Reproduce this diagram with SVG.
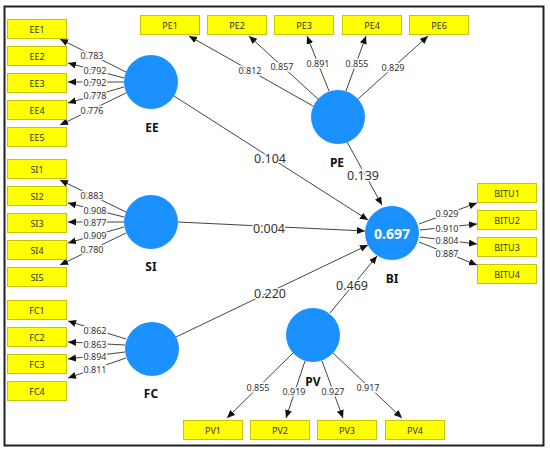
<svg xmlns="http://www.w3.org/2000/svg" width="550" height="452" viewBox="0 0 550 452">
<style>
text{font-family:"Noto Sans","Open Sans",sans-serif;fill:#333;text-anchor:middle;dominant-baseline:central}
.box rect{fill:#ffff00;stroke:#c9c400;stroke-width:1}
.box text{font-size:9px}
.lv circle{fill:#1b91ff}
.lv text{font-size:12px;font-weight:bold;fill:#111}
.lv text.r2{fill:#fff;font-size:14px}
.cn line{stroke:#444;stroke-width:1;marker-end:url(#ah)}
.ld{font-size:9px;stroke:#fff;stroke-width:3;paint-order:stroke}
.pc{font-size:12.5px;stroke:#fff;stroke-width:3;paint-order:stroke}
</style>
<defs>
<marker id="ah" markerWidth="9" markerHeight="8" refX="8" refY="3.5" orient="auto" markerUnits="userSpaceOnUse">
<path d="M0,0 L8,3.5 L0,7 z" fill="#111"/>
</marker>
</defs>
<rect x="0" y="0" width="550" height="452" fill="#fff"/>
<rect x="4.5" y="6.5" width="539" height="439" fill="none" stroke="#222" stroke-width="2"/>

<g class="cn" id="connectors">
<line x1="126" y1="72" x2="60" y2="39"/>
<line x1="124" y1="78" x2="68" y2="63"/>
<line x1="124" y1="82" x2="68" y2="82"/>
<line x1="124" y1="87" x2="68" y2="103"/>
<line x1="126" y1="93" x2="60" y2="125"/>
<line x1="126" y1="212" x2="60" y2="180"/>
<line x1="124" y1="217" x2="68" y2="203"/>
<line x1="124" y1="222" x2="68" y2="222"/>
<line x1="124" y1="227" x2="68" y2="243"/>
<line x1="126" y1="233" x2="60" y2="265"/>
<line x1="126" y1="339" x2="68" y2="321"/>
<line x1="125" y1="345" x2="68" y2="342"/>
<line x1="125" y1="352" x2="68" y2="359"/>
<line x1="126" y1="358" x2="68" y2="378"/>
<line x1="313" y1="106" x2="189" y2="36"/>
<line x1="318" y1="99" x2="249" y2="36"/>
<line x1="329" y1="91" x2="307" y2="36"/>
<line x1="346" y1="91" x2="366" y2="36"/>
<line x1="358" y1="99" x2="428" y2="36"/>
<line x1="419" y1="224" x2="477" y2="203"/>
<line x1="420" y1="230" x2="477" y2="224"/>
<line x1="420" y1="237" x2="477" y2="244"/>
<line x1="419" y1="242" x2="477" y2="265"/>
<line x1="293" y1="353" x2="227" y2="418"/>
<line x1="305" y1="361" x2="286" y2="418"/>
<line x1="322" y1="361" x2="343" y2="418"/>
<line x1="333" y1="353" x2="402" y2="418"/>
<line x1="174" y1="96" x2="368" y2="220"/>
<line x1="178" y1="222" x2="365" y2="231"/>
<line x1="176" y1="337" x2="368" y2="245"/>
<line x1="347" y1="142" x2="382" y2="205"/>
<line x1="330" y1="313" x2="377" y2="256"/>
<text class="ld" x="92" y="55">0.783</text>
<text class="ld" x="95" y="70">0.792</text>
<text class="ld" x="95" y="82">0.792</text>
<text class="ld" x="95" y="95">0.778</text>
<text class="ld" x="92" y="110">0.776</text>
<text class="ld" x="92" y="195">0.883</text>
<text class="ld" x="95" y="210">0.908</text>
<text class="ld" x="95" y="222">0.877</text>
<text class="ld" x="95" y="235">0.909</text>
<text class="ld" x="92" y="249">0.780</text>
<text class="ld" x="95" y="330">0.862</text>
<text class="ld" x="95" y="344">0.863</text>
<text class="ld" x="95" y="356">0.894</text>
<text class="ld" x="95" y="369">0.811</text>
<text class="ld" x="250" y="70">0.812</text>
<text class="ld" x="282" y="66">0.857</text>
<text class="ld" x="318" y="63">0.891</text>
<text class="ld" x="357" y="63">0.855</text>
<text class="ld" x="393" y="67">0.829</text>
<text class="ld" x="447" y="213">0.929</text>
<text class="ld" x="447" y="228">0.910</text>
<text class="ld" x="447" y="240">0.804</text>
<text class="ld" x="447" y="253">0.887</text>
<text class="ld" x="258" y="387">0.855</text>
<text class="ld" x="294" y="391">0.919</text>
<text class="ld" x="333" y="391">0.927</text>
<text class="ld" x="368" y="387">0.917</text>
<text class="pc" x="270" y="158">0.104</text>
<text class="pc" x="269" y="228">0.004</text>
<text class="pc" x="270" y="293">0.220</text>
<text class="pc" x="363" y="175">0.139</text>
<text class="pc" x="352" y="285">0.469</text>
</g>

<g class="lv" id="EE"><circle cx="151" cy="82" r="27"/><text x="152" y="127">EE</text></g>
<g class="lv" id="SI"><circle cx="151" cy="222" r="27"/><text x="151" y="266">SI</text></g>
<g class="lv" id="FC"><circle cx="152" cy="349" r="27"/><text x="151" y="393">FC</text></g>
<g class="lv" id="PE"><circle cx="338" cy="117" r="27"/><text x="337" y="162">PE</text></g>
<g class="lv" id="BI"><circle cx="392" cy="233" r="27"/><text class="r2" x="392" y="233">0.697</text><text x="392" y="278">BI</text></g>
<g class="lv" id="PV"><circle cx="313" cy="335" r="27"/><text x="313" y="381">PV</text></g>

<g class="box" id="EE1"><rect x="7.5" y="19.5" width="59" height="19"/><text x="37" y="29">EE1</text></g>
<g class="box" id="EE2"><rect x="7.5" y="46.5" width="59" height="19"/><text x="37" y="56">EE2</text></g>
<g class="box" id="EE3"><rect x="7.5" y="73.5" width="59" height="19"/><text x="37" y="83">EE3</text></g>
<g class="box" id="EE4"><rect x="7.5" y="100.5" width="59" height="19"/><text x="37" y="110">EE4</text></g>
<g class="box" id="EE5"><rect x="7.5" y="127.5" width="59" height="19"/><text x="37" y="137">EE5</text></g>
<g class="box" id="SI1"><rect x="7.5" y="159.5" width="59" height="19"/><text x="37" y="169">SI1</text></g>
<g class="box" id="SI2"><rect x="7.5" y="186.5" width="59" height="19"/><text x="37" y="196">SI2</text></g>
<g class="box" id="SI3"><rect x="7.5" y="213.5" width="59" height="19"/><text x="37" y="223">SI3</text></g>
<g class="box" id="SI4"><rect x="7.5" y="240.5" width="59" height="19"/><text x="37" y="250">SI4</text></g>
<g class="box" id="SI5"><rect x="7.5" y="267.5" width="59" height="19"/><text x="37" y="277">SI5</text></g>
<g class="box" id="FC1"><rect x="7.5" y="300.5" width="59" height="19"/><text x="37" y="310">FC1</text></g>
<g class="box" id="FC2"><rect x="7.5" y="327.5" width="59" height="19"/><text x="37" y="337">FC2</text></g>
<g class="box" id="FC3"><rect x="7.5" y="354.5" width="59" height="19"/><text x="37" y="364">FC3</text></g>
<g class="box" id="FC4"><rect x="7.5" y="381.5" width="59" height="19"/><text x="37" y="391">FC4</text></g>
<g class="box" id="PE1"><rect x="140.5" y="15.5" width="59" height="19"/><text x="170" y="25">PE1</text></g>
<g class="box" id="PE2"><rect x="207.5" y="15.5" width="59" height="19"/><text x="237" y="25">PE2</text></g>
<g class="box" id="PE3"><rect x="274.5" y="15.5" width="59" height="19"/><text x="304" y="25">PE3</text></g>
<g class="box" id="PE4"><rect x="342.5" y="15.5" width="59" height="19"/><text x="372" y="25">PE4</text></g>
<g class="box" id="PE6"><rect x="409.5" y="15.5" width="59" height="19"/><text x="439" y="25">PE6</text></g>
<g class="box" id="BITU1"><rect x="477.5" y="183.5" width="59" height="19"/><text x="507" y="193">BITU1</text></g>
<g class="box" id="BITU2"><rect x="477.5" y="210.5" width="59" height="19"/><text x="507" y="220">BITU2</text></g>
<g class="box" id="BITU3"><rect x="477.5" y="237.5" width="59" height="19"/><text x="507" y="247">BITU3</text></g>
<g class="box" id="BITU4"><rect x="477.5" y="264.5" width="59" height="19"/><text x="507" y="274">BITU4</text></g>
<g class="box" id="PV1"><rect x="183.5" y="420.5" width="59" height="19"/><text x="213" y="430">PV1</text></g>
<g class="box" id="PV2"><rect x="250.5" y="420.5" width="59" height="19"/><text x="280" y="430">PV2</text></g>
<g class="box" id="PV3"><rect x="317.5" y="420.5" width="59" height="19"/><text x="347" y="430">PV3</text></g>
<g class="box" id="PV4"><rect x="385.5" y="420.5" width="59" height="19"/><text x="415" y="430">PV4</text></g>
</svg>
